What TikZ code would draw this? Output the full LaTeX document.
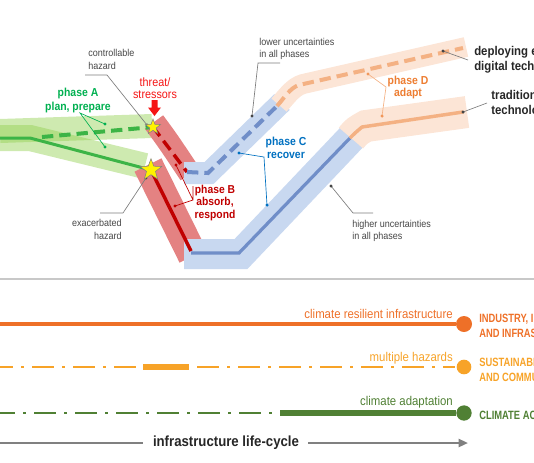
\documentclass[tikz,border=0pt]{standalone}
\usepackage{fontspec}
\setmainfont{Liberation Sans}[FakeStretch=0.9]
\newfontfamily\narrowfont{Liberation Sans}[FakeStretch=0.78]
\usetikzlibrary{shapes.geometric,arrows.meta}
\definecolor{bandgreen}{RGB}{146,208,80}
\definecolor{linegreen}{RGB}{60,180,70}
\definecolor{txtgreen}{RGB}{0,176,80}
\definecolor{bandred}{RGB}{228,130,130}
\definecolor{darkred}{RGB}{192,0,0}
\definecolor{threatred}{RGB}{245,20,20}
\definecolor{bandblue}{RGB}{200,216,240}
\definecolor{lineblue}{RGB}{112,142,200}
\definecolor{txtblue}{RGB}{0,112,192}
\definecolor{bandorange}{RGB}{252,229,214}
\definecolor{lineorange}{RGB}{244,177,131}
\definecolor{txtorange}{RGB}{237,125,49}
\definecolor{labgrey}{RGB}{70,70,70}
\definecolor{leadgrey}{RGB}{125,125,125}
\definecolor{sepgrey}{RGB}{200,200,200}
\definecolor{arrgrey}{RGB}{128,128,128}
\definecolor{resorange}{RGB}{238,112,40}
\definecolor{hazorange}{RGB}{247,163,40}
\definecolor{adagreen}{RGB}{80,128,52}
\newcommand\fsz[2]{\fontsize{#1}{#2}\selectfont}
\begin{document}
\begin{tikzpicture}[x=0.75pt,y=-0.75pt,
  gband/.style={draw=bandgreen,draw opacity=0.45},
  rband/.style={draw=bandred},
  bband/.style={draw=bandblue},
  oband/.style={draw=bandorange},
  dsh/.style={dash pattern=on 8.5pt off 4.5pt},
  greylab/.style={text=labgrey,font=\fsz{7.5}{9.75},inner sep=0},
  leadg/.style={draw=leadgrey,line width=0.5pt},
  dotg/.style={fill=labgrey},
  dashdot/.style={dash pattern=on 16.5pt off 6pt on 2.25pt off 6pt},
  endball/.style={circle,inner sep=0,minimum size=#1},
  sdg/.style={font=\narrowfont\bfseries\fsz{9}{11.25},align=left,anchor=west,inner sep=0}
]
\useasboundingbox (0,0) rectangle (534,462);
\clip (0,0) rectangle (534,462);
% ---------------- bands ----------------
\draw[gband,line width=18pt] (0,131) -- (152,126);
\draw[gband,line width=19.5pt] (0,138) -- (30,138) -- (145,166);
\draw[rband,line width=17pt] (154,122) .. controls (168,141) .. (190,174);
\draw[rband,line width=22.5pt] (148,165) -- (193,256);
\draw[bband,line width=16.5pt] (184,173) -- (209,173) -- (282,102);
\draw[oband,line width=15pt] (279,105) .. controls (287,96) and (293,87) .. (303,84) -- (466,47);
\draw[bband,line width=22.5pt] (184,254) -- (241,254) -- (353,136);
\draw[oband,line width=24pt] (351,138) .. controls (357,131) .. (366,126) -- (467,112);
% ---------------- lines ----------------
\coordinate (s1) at (153,127);
\coordinate (s2) at (151,170);
\coordinate (gl0) at (0,138);
\coordinate (gl1) at (30,138);
\coordinate (gd0) at (42,137);
\draw[linegreen,line width=2.25pt] (gl0) -- (gl1) -- (s2);
\draw[linegreen,line width=3pt,dsh] (gd0) -- (s1);
\coordinate (rb1) at (187,172);
\coordinate (rb2) at (191,251);
\draw[darkred,line width=2.6pt,dsh] (s1) -- (rb1);
\draw[darkred,line width=2.6pt] (s2) -- (rb2);
\coordinate (bd1) at (208,173);
\coordinate (bd2) at (277,106);
\coordinate (od1) at (299,85);
\coordinate (od2) at (463,48);
\draw[lineblue,line width=3pt,dsh] (rb1) -- (bd1) -- (bd2);
\draw[lineorange,line width=3pt,dsh] (bd2) .. controls (285,97) and (290,88) .. (od1) -- (od2);
\coordinate (bs0) at (191,253);
\coordinate (bs1) at (239,253);
\coordinate (bs2) at (350,138);
\coordinate (os1) at (362,127);
\coordinate (os2) at (463,112);
\draw[lineblue,line width=2.4pt] (bs0) -- (bs1) -- (bs2);
\draw[lineorange,line width=2.6pt] (bs2) .. controls (355,133) .. (os1) -- (os2);
% ---------------- labels and leaders ----------------
% controllable hazard
\node[greylab,align=left,anchor=north west] (ctrl) at (88,49) {controllable\\hazard};
\coordinate (c1) at (85,75); \coordinate (c2) at (107,75); \coordinate (cd) at (147,125);
\draw[leadg] (c1) -- (c2) -- (cd);
\fill[dotg] (cd) circle (1.3pt);
% exacerbated hazard
\node[greylab,align=right,anchor=north east] (exac) at (122,219) {exacerbated\\hazard};
\coordinate (e1) at (100,213); \coordinate (e2) at (123,213); \coordinate (ed) at (146,178);
\draw[leadg] (e1) -- (e2) -- (ed);
\fill[dotg] (ed) circle (1.3pt);
% phase A
\node[text=txtgreen,font=\bfseries\fsz{8.7}{10.5},align=center,inner sep=0] (pA) at (78,100) {phase A\\plan, prepare};
\coordinate (a0) at (80,113); \coordinate (a1) at (105,124); \coordinate (a2) at (105,147);
\draw[txtgreen,line width=0.5pt] (a1) -- (a0) -- (a2);
\fill[txtgreen] (a1) circle (1.3pt) (a2) circle (1.3pt);
% threat
\node[text=threatred,font=\fsz{9}{9.2},align=center,inner sep=0] (thr) at (155,88) {threat/\\stressors};
\fill[threatred] (151.5,100) -- (157.5,100) -- (157.5,107.5) -- (161,107.5) -- (154.5,116) -- (148,107.5) -- (151.5,107.5) -- cycle;
% phase B
\node[text=darkred,font=\bfseries\fsz{8.6}{9.4},align=center,inner sep=0] (pB) at (215,203) {phase B\\absorb,\\respond};
\coordinate (b1) at (176,165); \coordinate (b2) at (175,206); \coordinate (bj) at (193,200); \coordinate (bt) at (193,186);
\draw[darkred,line width=0.5pt] (b1) -- (bj) -- (b2) (bt) -- (bj);
\fill[darkred] (b1) circle (1.3pt) (b2) circle (1.3pt);
% lower uncertainties
\node[greylab,align=left,anchor=north west,font=\fsz{7.5}{8.7}] (low) at (259,38) {lower uncertainties\\in all phases};
\coordinate (l1) at (280,63); \coordinate (l2) at (258,63); \coordinate (ld) at (252,116);
\draw[leadg] (l1) -- (l2) -- (ld);
\fill[dotg] (ld) circle (1.3pt);
% phase C
\node[text=txtblue,font=\bfseries\fsz{8.7}{9.6},align=center,inner sep=0] (pC) at (286,148) {phase C\\recover};
\coordinate (k1) at (239,153); \coordinate (k2) at (264,157); \coordinate (k3) at (267,205);
\draw[txtblue,line width=0.5pt] (k1) -- (k2) -- (k3);
\fill[txtblue] (k1) circle (1.3pt) (k3) circle (1.3pt);
% phase D
\node[text=txtorange,font=\bfseries\fsz{8.7}{9}, align=center,inner sep=0] (pD) at (408,87) {phase D\\adapt};
\coordinate (d1) at (368,74); \coordinate (d2) at (386,87); \coordinate (d3) at (382,116);
\draw[lineorange,line width=0.5pt] (d1) -- (d2) -- (d3);
\fill[txtorange!80] (d1) circle (1.3pt) (d3) circle (1.3pt);
% deploying
\node[font=\bfseries\fsz{9.5}{11.25},align=left,anchor=west,inner sep=0,text=black!85] (dep) at (474,59.5) {deploying emerging\\digital technologies};
\coordinate (p1) at (443,51); \coordinate (p2) at (468,60);
\draw[leadg] (p1) -- (p2);
\fill[dotg] (p1) circle (1.3pt);
% traditional
\node[font=\bfseries\fsz{9.5}{11.25},align=left,anchor=west,inner sep=0,text=black!85] (trad) at (491,103.5) {traditional\\technologies};
\coordinate (t1) at (463,112); \coordinate (t2) at (487,103);
\draw[leadg] (t1) -- (t2);
\fill[dotg] (t1) circle (1.3pt);
% higher uncertainties
\node[greylab,align=left,anchor=north west,font=\fsz{7.5}{9}] (high) at (352,220) {higher uncertainties\\in all phases};
\coordinate (h1) at (331,186); \coordinate (h2) at (353,213); \coordinate (h3) at (373,213);
\draw[leadg] (h1) -- (h2) -- (h3);
\fill[dotg] (h1) circle (1.3pt);
% stars
\node[star,star points=5,star point ratio=2.4,fill=yellow,draw=gray,line width=0.4pt,minimum size=12pt,inner sep=0] (star1) at (s1) {};
\node[star,star points=5,star point ratio=2.4,fill=yellow,draw=gray,line width=0.4pt,minimum size=17pt,inner sep=0] (star2) at (s2) {};
% ---------------- separator ----------------
\coordinate (sep0) at (0,279); \coordinate (sep1) at (534,279);
\draw[sepgrey,line width=1.2pt] (sep0) -- (sep1);
% ---------------- bottom rows ----------------
\node[endball=12pt,fill=resorange] (ball1) at (464,324) {};
\coordinate (r0) at (0,324);
\draw[resorange,line width=3pt] (r0) -- (ball1);
\node[text=resorange,font=\fsz{9.5}{11},anchor=east,inner sep=0] (lab1) at (453,314) {climate resilient infrastructure};
\node[sdg,text=resorange] (sdg9) at (479,325.5) {INDUSTRY, INNOVATION\\AND INFRASTRUCTURE};

\node[endball=11pt,fill=hazorange] (ball2) at (464,367) {};
\coordinate (y0) at (0,367); \coordinate (y1) at (140,367);
\coordinate (y2) at (143,367); \coordinate (y3) at (189,367);
\coordinate (y4) at (197,367); \coordinate (y5) at (455,367);
\draw[hazorange,line width=1.9pt,dashdot,dash phase=6.75pt] (y0) -- (y1);
\draw[hazorange,line width=4pt] (y2) -- (y3);
\draw[hazorange,line width=1.9pt,dashdot] (y4) -- (y5);
\node[text=hazorange,font=\fsz{9.5}{11},anchor=east,inner sep=0] (lab2) at (453,358) {multiple hazards};
\node[sdg,text=hazorange] (sdg11) at (479,369.5) {SUSTAINABLE CITIES\\AND COMMUNITIES};

\node[endball=11.5pt,fill=adagreen] (ball3) at (464,413) {};
\coordinate (g0) at (0,413); \coordinate (g1) at (276,413); \coordinate (g2) at (280,413);
\draw[adagreen,line width=1.9pt,dashdot,dash phase=5.25pt] (g0) -- (g1);
\draw[adagreen,line width=3.8pt] (g2) -- (ball3);
\node[text=adagreen,font=\fsz{9.5}{11},anchor=east,inner sep=0] (lab3) at (453,402) {climate adaptation};
\node[sdg,text=adagreen] (sdg13) at (479,415) {CLIMATE ACTION};

% life-cycle arrow
\node[font=\bfseries\fsz{11}{13},text=black!85,inner sep=0] (life) at (226,443) {infrastructure life-cycle};
\coordinate (lc0) at (0,443); \coordinate (lc1) at (143,443);
\coordinate (lc2) at (308,443); \coordinate (lc3) at (468,443);
\draw[arrgrey,line width=1.6pt] (lc0) -- (lc1);
\draw[arrgrey,line width=1.6pt,-{Triangle[length=7pt,width=6pt]}] (lc2) -- (lc3);
\end{tikzpicture}
\end{document}
